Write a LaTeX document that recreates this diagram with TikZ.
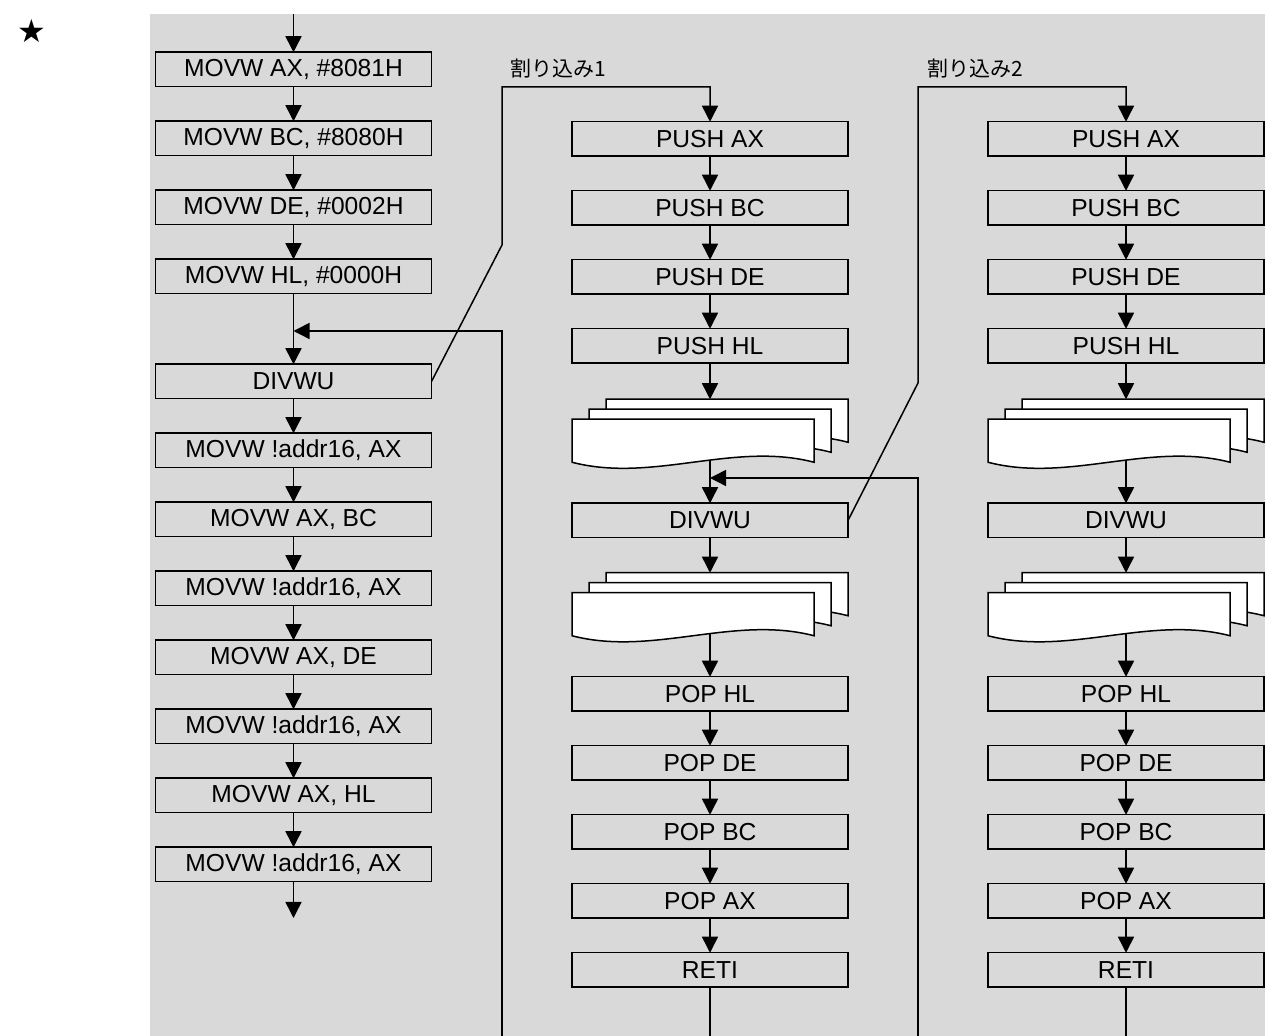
\documentclass[tikz,border=0pt]{standalone}
\usepackage{fontspec}
\setmainfont{Liberation Sans}
\newfontfamily\jpfont{Noto Sans CJK JP}
\newfontfamily\symfont{DejaVu Sans}
\usetikzlibrary{positioning,arrows.meta}

\definecolor{panelgray}{RGB}{217,217,217}

% one sheet of the stacked document symbol (left, right, top, bottom)
\newcommand{\docsheet}[4]{%
  \draw[fill=white] (#1,#3) -- (#2,#3) -- (#2,#4)
    .. controls ({#2-(#2-#1)/3},{#4-21}) and ({#1+(#2-#1)/3},{#4+21}) .. (#1,#4) -- cycle;
}
% three sheets, drawn over an empty node
\newcommand{\docstack}[1]{%
  \begin{scope}[shift={(#1.north west)}]
    \docsheet{34}{276}{0}{43}
    \docsheet{17}{259}{10}{53}
    \docsheet{0}{242}{20}{63}
  \end{scope}%
}

\begin{document}
\begin{tikzpicture}[
    x=0.5pt, y=-0.5pt, line width=0.75pt,
    node distance=17.25pt,
    box/.style={rectangle, draw, fill=panelgray, minimum width=138pt, minimum height=17.25pt,
                inner sep=0pt, outer sep=0pt, font=\fontsize{12.3}{14}\selectfont},
    docs/.style={rectangle, minimum width=138pt, minimum height=31.5pt, inner sep=0pt, outer sep=0pt},
    label/.style={anchor=west, inner sep=0pt, font=\jpfont\fontsize{10.5}{12}\selectfont},
    arrow/.style={-{Triangle[width=8pt,length=8pt]}}
]
\useasboundingbox (0,0) rectangle (1265,1036);
\fill[panelgray] (150,14) rectangle (1265,1036);

\node[font=\symfont\fontsize{16}{16}\selectfont] (star) at (32,31) {★};

% -------- main program --------
\node[box] (movax) at (293.5,69.5) {MOVW AX, \#8081H};
\node[box, below=of movax] (movbc) {MOVW BC, \#8080H};
\node[box, below=of movbc] (movde) {MOVW DE, \#0002H};
\node[box, below=of movde] (movhl) {MOVW HL, \#0000H};
\node[box, below=35.25pt of movhl] (div0) {DIVWU};
\node[box, below=of div0] (st1) {MOVW !addr16, AX};
\node[box, below=of st1] (movaxbc) {MOVW AX, BC};
\node[box, below=of movaxbc] (st2) {MOVW !addr16, AX};
\node[box, below=of st2] (movaxde) {MOVW AX, DE};
\node[box, below=of movaxde] (st3) {MOVW !addr16, AX};
\node[box, below=of st3] (movaxhl) {MOVW AX, HL};
\node[box, below=of movaxhl] (st4) {MOVW !addr16, AX};

% -------- interrupt 1 --------
\node[label] (irq1) at (510,69) {割り込み1};
\node[box] (pushax1) at (710,139) {PUSH AX};
\node[box, below=of pushax1] (pushbc1) {PUSH BC};
\node[box, below=of pushbc1] (pushde1) {PUSH DE};
\node[box, below=of pushde1] (pushhl1) {PUSH HL};
\node[docs, below=18pt of pushhl1] (docs1a) {};
\node[box, below=20.5pt of docs1a] (div1) {DIVWU};
\node[docs, below=17.5pt of div1] (docs1b) {};
\node[box, below=20.5pt of docs1b] (pophl1) {POP HL};
\node[box, below=of pophl1] (popde1) {POP DE};
\node[box, below=of popde1] (popbc1) {POP BC};
\node[box, below=of popbc1] (popax1) {POP AX};
\node[box, below=of popax1] (reti1) {RETI};

% -------- interrupt 2 --------
\node[label] (irq2) at (927,69) {割り込み2};
\node[box] (pushax2) at (1126,139) {PUSH AX};
\node[box, below=of pushax2] (pushbc2) {PUSH BC};
\node[box, below=of pushbc2] (pushde2) {PUSH DE};
\node[box, below=of pushde2] (pushhl2) {PUSH HL};
\node[docs, below=18pt of pushhl2] (docs2a) {};
\node[box, below=20.5pt of docs2a] (div2) {DIVWU};
\node[docs, below=17.5pt of div2] (docs2b) {};
\node[box, below=20.5pt of docs2b] (pophl2) {POP HL};
\node[box, below=of pophl2] (popde2) {POP DE};
\node[box, below=of popde2] (popbc2) {POP BC};
\node[box, below=of popbc2] (popax2) {POP AX};
\node[box, below=of popax2] (reti2) {RETI};

\docstack{docs1a}
\docstack{docs1b}
\docstack{docs2a}
\docstack{docs2b}

% -------- free ends and bends --------
\coordinate (in0) at (293.5,14);
\coordinate (out0) at (293.5,918);
\coordinate (join1) at (293.5,331);
\coordinate (tap1) at (502,87);
\coordinate (bend1) at (502,245);
\coordinate (back1) at (502,1036);
\coordinate (join2) at (710,478);
\coordinate (tap2) at (918,87);
\coordinate (bend2) at (918,383);
\coordinate (back2) at (918,1036);

% -------- arrows --------
\draw[arrow] (in0) -- (movax);
\draw[arrow] (movax) -- (movbc);
\draw[arrow] (movbc) -- (movde);
\draw[arrow] (movde) -- (movhl);
\draw[arrow] (movhl) -- (div0);
\draw[arrow] (div0) -- (st1);
\draw[arrow] (st1) -- (movaxbc);
\draw[arrow] (movaxbc) -- (st2);
\draw[arrow] (st2) -- (movaxde);
\draw[arrow] (movaxde) -- (st3);
\draw[arrow] (st3) -- (movaxhl);
\draw[arrow] (movaxhl) -- (st4);
\draw[arrow] (st4) -- (out0);

\draw[arrow] (div0.east) -- (bend1) -- (tap1) -| (pushax1);
\draw[arrow] (pushax1) -- (pushbc1);
\draw[arrow] (pushbc1) -- (pushde1);
\draw[arrow] (pushde1) -- (pushhl1);
\draw[arrow] (pushhl1) -- (docs1a.north);
\draw[arrow] ([yshift=1pt]docs1a.south) -- (div1);
\draw[arrow] (div1) -- (docs1b.north);
\draw[arrow] ([yshift=1pt]docs1b.south) -- (pophl1);
\draw[arrow] (pophl1) -- (popde1);
\draw[arrow] (popde1) -- (popbc1);
\draw[arrow] (popbc1) -- (popax1);
\draw[arrow] (popax1) -- (reti1);
\draw (reti1) -- (reti1 |- back1);
\draw[arrow] (back1) |- (join1);

\draw[arrow] (div1.east) -- (bend2) -- (tap2) -| (pushax2);
\draw[arrow] (pushax2) -- (pushbc2);
\draw[arrow] (pushbc2) -- (pushde2);
\draw[arrow] (pushde2) -- (pushhl2);
\draw[arrow] (pushhl2) -- (docs2a.north);
\draw[arrow] ([yshift=1pt]docs2a.south) -- (div2);
\draw[arrow] (div2) -- (docs2b.north);
\draw[arrow] ([yshift=1pt]docs2b.south) -- (pophl2);
\draw[arrow] (pophl2) -- (popde2);
\draw[arrow] (popde2) -- (popbc2);
\draw[arrow] (popbc2) -- (popax2);
\draw[arrow] (popax2) -- (reti2);
\draw (reti2) -- (reti2 |- back2);
\draw[arrow] (back2) |- (join2);

\end{tikzpicture}
\end{document}
